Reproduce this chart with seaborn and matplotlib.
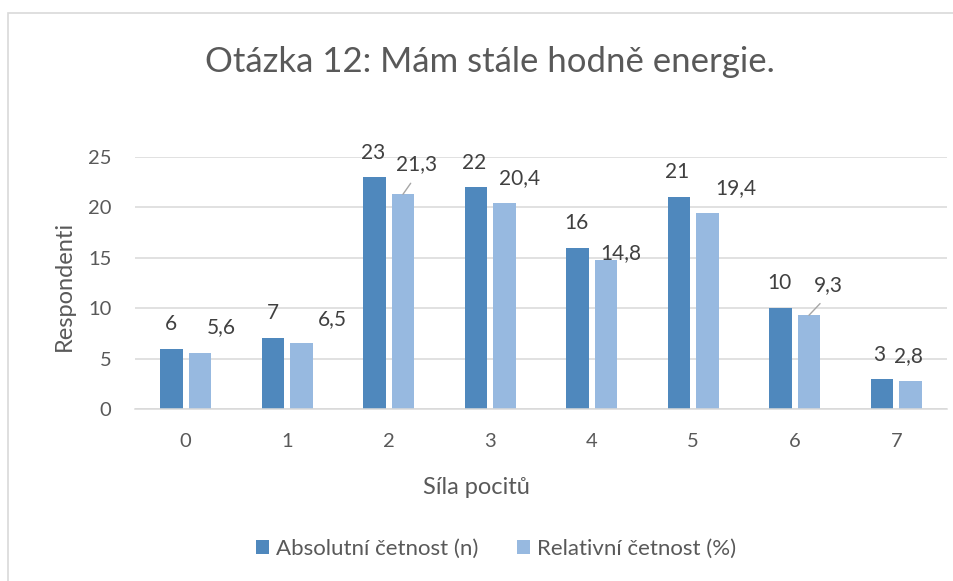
import pandas as pd
import seaborn as sns
import matplotlib.pyplot as plt
from matplotlib.patches import Rectangle

# data
kategorie = ["0", "1", "2", "3", "4", "5", "6", "7"]
absolutni = [6, 7, 23, 22, 16, 21, 10, 3]
relativni = [5.6, 6.5, 21.3, 20.4, 14.8, 19.4, 9.3, 2.8]
serie = ["Absolutní četnost (n)", "Relativní četnost (%)"]

df = pd.DataFrame({
    "Síla pocitů": kategorie * 2,
    "řada": [serie[0]] * len(kategorie) + [serie[1]] * len(kategorie),
    "hodnota": absolutni + relativni,
})

sns.set_style("white")
plt.rcParams["font.family"] = ["Lato", "DejaVu Sans"]
text_col = "#595959"
label_col = "#404040"
grid_col = "#D9D9D9"

fig = plt.figure(figsize=(9.54, 5.81), dpi=100)
ax = fig.add_axes([135 / 954, 1 - 409 / 581, 812 / 954, 252 / 581])

sns.barplot(data=df, x="Síla pocitů", y="hodnota", hue="řada", order=kategorie,
            hue_order=serie, palette=["#4F88BD", "#97B9E0"], saturation=1,
            width=0.56, gap=0.2, linewidth=0, ax=ax)

ax.set_xlim(-0.5, 7.5)
ax.set_ylim(0, 25)
ax.set_yticks(range(0, 26, 5))
ax.yaxis.grid(True, color=grid_col, linewidth=1.1)
ax.set_axisbelow(True)
for s in ["top", "right", "left"]:
    ax.spines[s].set_visible(False)
ax.spines["bottom"].set_color(grid_col)
ax.spines["bottom"].set_linewidth(1.1)
ax.tick_params(axis="both", length=0, labelsize=14.5, labelcolor=text_col)
ax.tick_params(axis="y", pad=17)
ax.tick_params(axis="x", pad=17)
ax.set_xlabel("")
ax.set_ylabel("")

# label offsets in pixels from top of bar (manual placement as in the original)
off_abs = [(-1, 25), (0, 25), (-1, 24), (-2, 24), (-1, 25), (-2, 25), (-1, 25), (-3, 24)]
off_rel = [(21, 25), (31, 24), (14, 30), (15, 25), (15, 7), (28, 25), (19, 30), (-2, 25)]
leader = [False, False, True, False, False, False, True, False]

for bar, v, (dx, dy) in zip(ax.containers[0], absolutni, off_abs):
    ax.annotate(str(v), (bar.get_x() + bar.get_width() / 2, bar.get_height()),
                xytext=(dx, dy), textcoords="offset pixels", ha="center", va="center",
                fontsize=15, color=label_col)

for bar, v, (dx, dy), ld in zip(ax.containers[1], relativni, off_rel, leader):
    lab = f"{v:.1f}".replace(".", ",")
    arrow = dict(arrowstyle="-", color="#A6A6A6", lw=1, relpos=(0.5, 0),
                 shrinkA=5, shrinkB=0) if ld else None
    ax.annotate(lab, (bar.get_x() + bar.get_width() / 2, bar.get_height()),
                xytext=(dx, dy), textcoords="offset pixels", ha="center", va="center",
                fontsize=15, color=label_col, arrowprops=arrow)

handles, labels = ax.get_legend_handles_labels()
ax.get_legend().remove()
fig.legend(handles, labels, loc="center", bbox_to_anchor=(496 / 954, 1 - 549 / 581),
           ncol=2, frameon=False, fontsize=16, labelcolor=text_col,
           handlelength=0.6, handleheight=0.6, handletextpad=0.3, columnspacing=1.75)

fig.text(490 / 954, 1 - 62 / 581, "Otázka 12: Mám stále hodně energie.",
         ha="center", va="center", fontsize=25, color=text_col)
fig.text(64 / 954, 1 - 286 / 581, "Respondenti", rotation=90,
         ha="center", va="center", fontsize=17, color=text_col)
fig.text(476 / 954, 1 - 488 / 581, "Síla pocitů",
         ha="center", va="center", fontsize=17, color=text_col)

# chart area border
fig.patches.append(Rectangle((8 / 954, -0.1), 1.2, 1.1 - 13 / 581, transform=fig.transFigure,
                             fill=False, edgecolor=grid_col, linewidth=1.2))

fig.savefig("out.png", dpi=100)
